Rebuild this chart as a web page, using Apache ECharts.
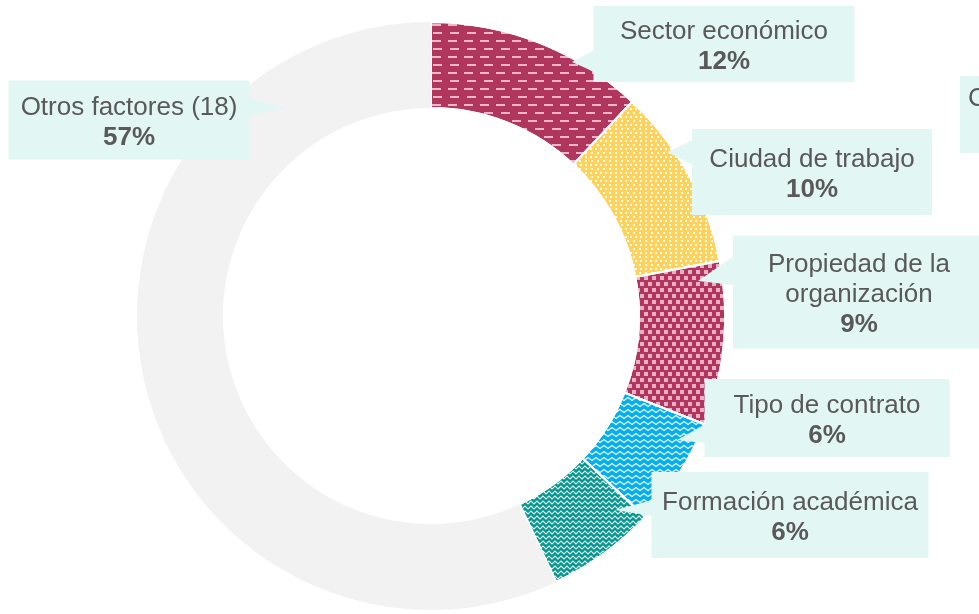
<!DOCTYPE html>
<html>
<head>
<meta charset="utf-8">
<style>
  html, body { margin: 0; padding: 0; background: #fff; }
  #chart { width: 979px; height: 614px; }
</style>
<script src="https://cdn.jsdelivr.net/npm/echarts@6/dist/echarts.min.js"></script>
</head>
<body>
<div id="chart"></div>
<script>
const categories = ['Sector económico', 'Ciudad de trabajo', 'Propiedad de la\norganización', 'Tipo de contrato', 'Formación académica', 'Otros factores (18)']
const shares = [12, 10, 9, 6, 6, 57]

// callout boxes: centre, size, pointer tip (pixels)
const callouts = [
  { cx: 724, cy: 44, w: 261, h: 76, side: 'left', tip: [572, 62], base: [50, 72] },
  { cx: 812, cy: 172, w: 240, h: 86, side: 'left', tip: [667, 152], base: [140, 165] },
  { cx: 859, cy: 292, w: 252, h: 113, side: 'left', tip: [698, 281], base: [256, 285] },
  { cx: 827, cy: 418, w: 245, h: 78, side: 'left', tip: [677, 440], base: [424, 443] },
  { cx: 790, cy: 515, w: 277, h: 86, side: 'left', tip: [615, 510], base: [500, 516] },
  { cx: 129, cy: 120, w: 241, h: 79, side: 'right', tip: [285, 108], base: [98, 116] }
]

const BOX = '#E2F6F4'
const TEXT = '#595959'
const FONT = 'Liberation Sans, Arial, sans-serif'

const itemStyles = [
  { color: '#B0365E', decal: { symbol: 'rect', symbolSize: 1, color: 'rgba(240,190,208,0.95)', dashArrayX: [[9, 7], [0, 8, 9, 0]], dashArrayY: [2, 6] } },
  { color: '#FFD25C', decal: { symbol: 'rect', symbolSize: 1, color: 'rgba(255,255,255,0.95)', dashArrayX: [[2, 3], [0, 2.5, 2, 0.5]], dashArrayY: [2, 2] } },
  { color: '#B0365E', decal: { symbol: 'rect', symbolSize: 1, color: 'rgba(232,176,198,1)', dashArrayX: [[4, 4], [0, 4, 4, 0]], dashArrayY: [4, 2] } },
  { color: '#00B0F0', decal: { symbol: 'path://M0,3 L4,0 L8,3 L8,4.6 L4,1.6 L0,4.6 Z', symbolSize: 1, color: '#ffffff', dashArrayX: [[8, 0]], dashArrayY: [6, 0] } },
  { color: '#009890', decal: { symbol: 'path://M0,3 L3,0 L6,3 L6,4.4 L3,1.4 L0,4.4 Z', symbolSize: 1, color: '#ffffff', dashArrayX: [[6, 0]], dashArrayY: [4.5, 0] } },
  { color: '#F2F2F2' }
]

const chart = echarts.init(document.getElementById('chart'), null, { renderer: 'canvas' })

const data = categories.map((name, i) => {
  const c = callouts[i]
  const lines = name.split('\n').length + 1
  const pad = (c.h - lines * 30) / 2
  return {
    name,
    value: shares[i],
    itemStyle: Object.assign({ borderColor: '#fff', borderWidth: i === 5 ? 0 : 2 }, itemStyles[i]),
    label: {
      width: c.w,
      padding: [pad + 3, 0, pad - 3, 0]
    }
  }
})

const pointers = callouts.map(c => {
  const bx = c.side === 'left' ? c.cx - c.w / 2 + 1 : c.cx + c.w / 2 - 1
  return {
    type: 'polygon',
    z: 100,
    shape: { points: [[bx, c.base[0]], [bx, c.base[1]], c.tip] },
    style: { fill: BOX }
  }
})

chart.setOption({
  animation: false,
  backgroundColor: '#fff',
  series: [{
    type: 'pie',
    center: [431, 316],
    radius: [208, 294],
    startAngle: 90,
    clockwise: true,
    avoidLabelOverlap: false,
    data,
    label: {
      show: true,
      position: 'outside',
      backgroundColor: BOX,
      color: TEXT,
      fontFamily: FONT,
      fontSize: 26,
      lineHeight: 30,
      align: 'center',
      formatter: p => p.name.split('\n').map(s => '{n|' + s + '}').join('\n') + '\n{b|' + p.value + '%}',
      rich: {
        n: { fontSize: 26, lineHeight: 30, color: TEXT, fontFamily: FONT },
        b: { fontSize: 26, lineHeight: 30, color: TEXT, fontWeight: 'bold', fontFamily: FONT }
      }
    },
    labelLine: { show: false },
    labelLayout: p => ({
      x: callouts[p.dataIndex].cx,
      y: callouts[p.dataIndex].cy,
      align: 'center',
      verticalAlign: 'middle'
    }),
    emphasis: { disabled: true }
  }],
  graphic: pointers.concat([{
    type: 'text',
    z: 100,
    left: 960,
    top: 76,
    style: {
      text: 'C',
      fill: TEXT,
      font: '26px "Liberation Sans", Arial, sans-serif',
      backgroundColor: BOX,
      padding: [10, 20, 41, 8]
    }
  }])
})
</script>
</body>
</html>
